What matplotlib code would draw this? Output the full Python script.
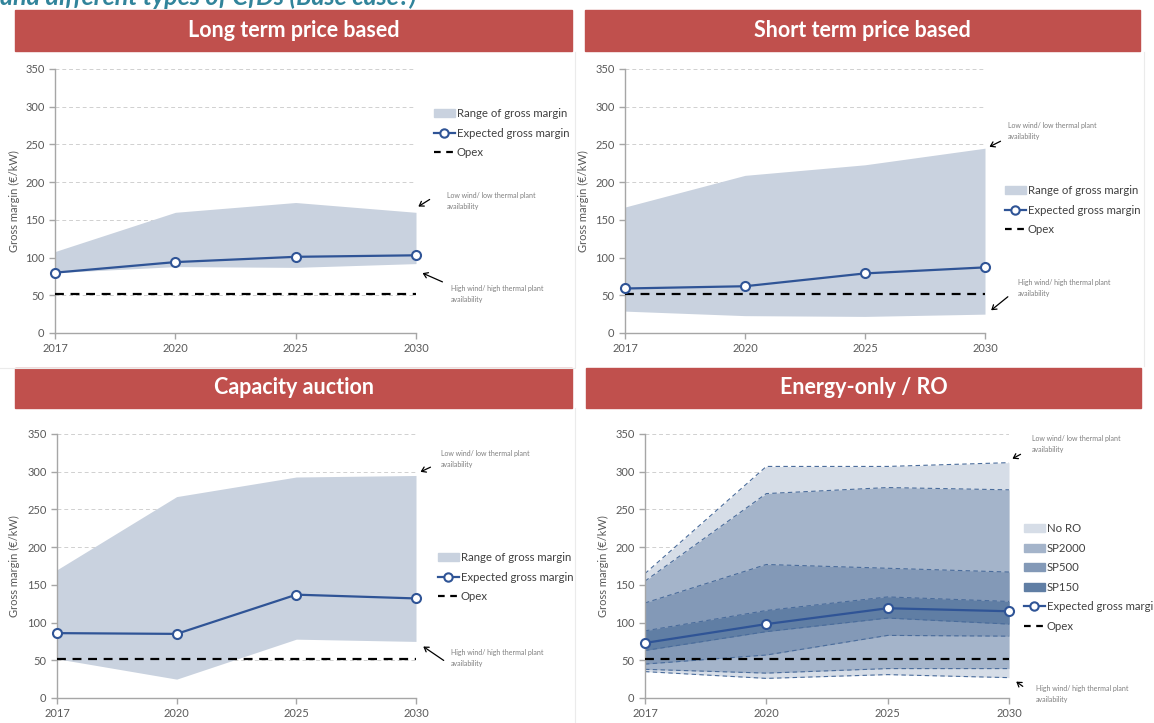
import matplotlib
matplotlib.use("Agg")
import matplotlib.pyplot as plt
from matplotlib.patches import Rectangle, Patch
from matplotlib.lines import Line2D

plt.rcParams['font.family'] = ['Lato', 'DejaVu Sans']

W, H = 1154, 723
years = ["2017", "2020", "2025", "2030"]
opex = [52, 52, 52, 52]

# long term price based
lt_upper = [108, 160, 173, 160]
lt_lower = [80, 88, 87, 92]
lt_expected = [80, 94, 101, 103]

# short term price based
st_upper = [167, 209, 223, 245]
st_lower = [29, 23, 22, 25]
st_expected = [59, 62, 79, 87]

# capacity auction
ca_upper = [170, 267, 293, 295]
ca_lower = [52, 25, 78, 75]
ca_expected = [86, 85, 137, 132]

# energy-only / RO
ro_bands = ["No RO", "SP2000", "SP500", "SP150"]
ro_upper = [[165, 307, 307, 312],
            [155, 271, 279, 276],
            [126, 177, 172, 167],
            [89, 116, 134, 128]]
ro_lower = [[35, 26, 31, 27],
            [38, 33, 39, 39],
            [45, 57, 83, 82],
            [63, 88, 106, 98]]
ro_expected = [73, 98, 119, 115]

RED = "#C0504D"
BLUE = "#2F5496"
FILL = "#C9D2DF"
BAND_COLS = ["#D6DDE7", "#A4B4CA", "#8399B7", "#607EA4"]
GRAY = "#595959"


def fx(x):
    return x / W


def fy(y):
    return 1 - y / H


fig = plt.figure(figsize=(W / 100, H / 100), dpi=100)

# faint panel frames
fig.add_artist(Line2D([fx(0), fx(575), fx(575)], [fy(368), fy(368), fy(52)],
                      color="#EBEBEB", lw=0.8))
fig.add_artist(Line2D([fx(575), fx(575)], [fy(408), fy(723)], color="#EBEBEB", lw=0.8))
fig.add_artist(Line2D([fx(1144), fx(1144)], [fy(52), fy(366)], color="#EBEBEB", lw=0.8))

# cut-off slide title
fig.text(0, fy(5), "and different types of CfDs (Base case?)", fontsize=18,
         style="italic", fontweight="bold", color="#31849B", va="baseline")

headers = [("Long term price based", 15, 572, 10, 51),
           ("Short term price based", 585, 1140, 10, 51),
           ("Capacity auction", 15, 572, 368, 408),
           ("Energy-only / RO", 586, 1141, 368, 408)]
for txt, x0, x1, y0, y1 in headers:
    fig.patches.append(Rectangle((fx(x0), fy(y1)), fx(x1 - x0), (y1 - y0) / H,
                                 transform=fig.transFigure, color=RED, zorder=0))
    fig.text(fx((x0 + x1) / 2), fy((y0 + y1) / 2), txt, color="white",
             fontsize=15.5, fontweight="bold", ha="center", va="center")


def make_axes(left, right, y0, y350, ylab_x):
    ax = fig.add_axes([fx(left), fy(y0), fx(right - left), (y0 - y350) / H])
    ax.set_xlim(0, 3)
    ax.set_ylim(0, 350)
    ax.set_yticks(range(0, 351, 50))
    ax.set_xticks(range(len(years)))
    ax.set_xticklabels(years)
    for s in ["top", "right"]:
        ax.spines[s].set_visible(False)
    for s in ["left", "bottom"]:
        ax.spines[s].set_color("#A6A6A6")
        ax.spines[s].set_linewidth(1)
    ax.tick_params(colors="#A6A6A6", labelcolor=GRAY, labelsize=8, length=4, width=1)
    for v in range(50, 351, 50):
        ax.plot([0, 3], [v, v], color="#D0D0D0", lw=0.7, ls=(0, (4, 3)), zorder=0.5)
    ax.patch.set_alpha(0)
    fig.text(fx(ylab_x), fy((y0 + y350) / 2), "Gross margin (€/kW)", rotation=90,
             fontsize=8, color=GRAY, ha="center", va="center")
    return ax


def expected_line(ax, vals):
    x = range(len(years))
    ax.plot(x, opex, color="black", lw=1.6, ls=(0, (4, 3)), zorder=3, clip_on=False)
    ax.plot(x, vals, color=BLUE, lw=1.6, marker="o", ms=6.5, mfc="white",
            mec=BLUE, mew=1.5, zorder=4, clip_on=False)


def annotate(text_xy, arrow_from, arrow_to, label):
    fig.text(fx(text_xy[0]), fy(text_xy[1]), label, fontsize=5, color="#7F7F7F",
             va="top", linespacing=1.6)
    fig.add_artist(matplotlib.patches.FancyArrowPatch(
        (fx(arrow_from[0]), fy(arrow_from[1])), (fx(arrow_to[0]), fy(arrow_to[1])),
        transform=fig.transFigure, arrowstyle="->,head_length=3,head_width=2",
        color="black", lw=0.9))


LOW = "Low wind/ low thermal plant\navailability"
HIGH = "High wind/ high thermal plant\navailability"

LEG_KW = dict(loc="upper left", bbox_transform=fig.transFigure, frameon=False,
              fontsize=8.2, borderpad=0, borderaxespad=0, handlelength=1.8,
              handletextpad=0.2, labelspacing=0.75, labelcolor="#404040")


def line_handles():
    return [Line2D([], [], color=BLUE, lw=1.6, marker="o", ms=6, mfc="white", mew=1.5),
            Line2D([], [], color="black", lw=1.6, ls=(0, (3, 2.5)))]


def basic_legend(ax, x, y):
    handles = [Patch(color=FILL)] + line_handles()
    labels = ["Range of gross margin", "Expected gross margin", "Opex"]
    ax.legend(handles, labels, bbox_to_anchor=(fx(x), fy(y)), **LEG_KW)


panels = [(lt_upper, lt_lower, lt_expected, (55, 416, 333, 69, 14), (434, 108),
           ((447, 192), (432, 198), (416, 208)), ((451, 285), (445, 283), (420, 272))),
          (st_upper, st_lower, st_expected, (625, 985, 333, 69, 583), (1005, 185),
           ((1008, 122), (1003, 140), (987, 148)), ((1018, 279), (1010, 295), (989, 312))),
          (ca_upper, ca_lower, ca_expected, (57, 416, 698, 434, 14), (438, 552),
           ((441, 450), (433, 466), (418, 473)), ((451, 649), (446, 662), (421, 645)))]

for up, lo, ex, geom, leg, low_ann, high_ann in panels:
    ax = make_axes(*geom)
    ax.fill_between(range(len(years)), lo, up, color=FILL, lw=0, zorder=1)
    expected_line(ax, ex)
    basic_legend(ax, *leg)
    annotate(*low_ann, LOW)
    annotate(*high_ann, HIGH)

# energy-only / RO panel
ax = make_axes(645, 1009, 698, 434, 603)
x = range(len(years))
for up, lo, col in zip(ro_upper, ro_lower, BAND_COLS):
    ax.fill_between(x, lo, up, color=col, lw=0, zorder=1)
for up, lo in zip(ro_upper, ro_lower):
    for vals in (up, lo):
        ax.plot(x, vals, color="#4A6C9B", lw=0.8, ls=(0, (4, 3)), zorder=2)
expected_line(ax, ro_expected)
handles = [Patch(color=c) for c in BAND_COLS] + line_handles()
labels = ro_bands + ["Expected gross margin", "Opex"]
ax.legend(handles, labels, bbox_to_anchor=(fx(1024), fy(523)), **LEG_KW)
annotate((1032, 435), (1023, 453), (1010, 460), LOW)
annotate((1036, 685), (1025, 688), (1014, 680), HIGH)

fig.savefig("out.png", dpi=100)
